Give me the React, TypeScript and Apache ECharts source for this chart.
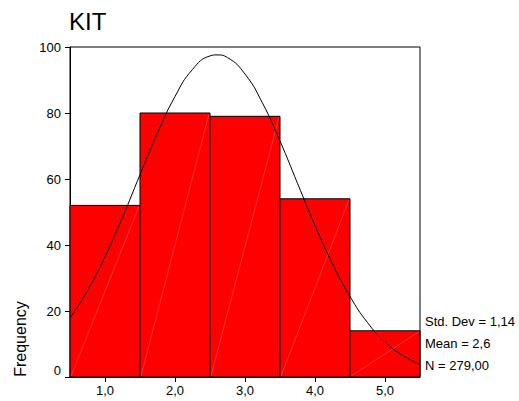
import React, { useEffect, useRef } from "react";
import * as echarts from "echarts";

// Histogram bins (centre of bin, frequency)
const binCenters = [1, 2, 3, 4, 5];
const frequencies = [52, 80, 79, 54, 14];

// Normal curve read along the x-axis
const curveX = [0.5, 0.75, 1.0, 1.25, 1.5, 1.75, 2.0, 2.25, 2.5, 2.6, 2.75, 3.0, 3.25, 3.5, 3.75, 4.0, 4.25, 4.5, 4.75, 5.0, 5.25, 5.5];
const curveY = [17.9, 26.2, 36.5, 48.4, 61.3, 73.9, 85.0, 93.2, 97.3, 97.6, 96.8, 91.8, 83.0, 71.5, 58.7, 45.9, 34.3, 24.4, 16.5, 10.6, 6.6, 3.8];

const xTicks = [1, 2, 3, 4, 5];
const statLines = ["Std. Dev = 1,14", "Mean = 2,6", "N = 279,00"];

const FONT = "Arial, 'Liberation Sans', Helvetica, sans-serif";

export default function App() {
  const ref = useRef<HTMLDivElement>(null);

  useEffect(() => {
    if (!ref.current) return;
    const chart = echarts.init(ref.current, null, { renderer: "svg" });

    const barData = binCenters.map((c, i) => [c, frequencies[i]]);
    const lineData = curveX.map((x, i) => [x, curveY[i]]);

    const option: any = {
      animation: false,
      backgroundColor: "#ffffff",
      textStyle: { fontFamily: FONT },
      title: {
        text: "KIT",
        left: 64,
        top: 4,
        textStyle: { fontFamily: FONT, fontSize: 24, fontWeight: "normal", color: "#000" },
      },
      grid: {
        left: 70,
        top: 47,
        width: 350,
        height: 330,
        show: true,
        borderColor: "#000",
        borderWidth: 1,
        backgroundColor: "transparent",
      },
      xAxis: {
        type: "value",
        min: 0.5,
        max: 5.5,
        splitLine: { show: false },
        axisLine: { show: true, lineStyle: { color: "#000", width: 1 } },
        axisTick: { show: true, customValues: xTicks, length: 5, lineStyle: { color: "#000" } },
        axisLabel: {
          customValues: xTicks,
          margin: 7,
          color: "#000",
          fontSize: 13,
          fontFamily: FONT,
          formatter: (v: number) => v.toFixed(1).replace(".", ","),
        },
      },
      yAxis: {
        type: "value",
        min: 0,
        max: 100,
        interval: 20,
        splitLine: { show: false },
        axisLine: { show: true, lineStyle: { color: "#000", width: 1 } },
        axisTick: { show: true, length: 5, lineStyle: { color: "#000" } },
        axisLabel: {
          margin: 9,
          color: "#000",
          fontSize: 13,
          fontFamily: FONT,
          formatter: (v: number) => (v === 0 ? "{z|0}" : String(v)),
          rich: { z: { fontSize: 13, fontFamily: FONT, color: "#000", padding: [0, 0, 14, 0] } },
        },
      },
      series: [
        {
          type: "custom",
          data: barData,
          z: 2,
          renderItem: (params: any, api: any) => {
            const c = api.value(0);
            const v = api.value(1);
            const tl = api.coord([c - 0.5, v]);
            const br = api.coord([c + 0.5, 0]);
            return {
              type: "group",
              children: [
                {
                  type: "rect",
                  shape: { x: tl[0], y: tl[1], width: br[0] - tl[0], height: br[1] - tl[1] },
                  style: { fill: "#ff0000", stroke: "#000", lineWidth: 1 },
                },
                {
                  type: "line",
                  shape: { x1: tl[0] + 1, y1: br[1] - 1, x2: br[0] - 1, y2: tl[1] + 1 },
                  style: { stroke: "rgba(255,255,255,0.4)", lineWidth: 0.5 },
                },
              ],
            };
          },
        },
        {
          type: "line",
          data: lineData,
          smooth: true,
          showSymbol: false,
          symbol: "none",
          z: 5,
          lineStyle: { color: "#000", width: 1 },
        },
      ],
      graphic: [
        {
          type: "text",
          x: 20,
          y: 339,
          rotation: Math.PI / 2,
          style: {
            text: "Frequency",
            fill: "#000",
            font: `16px ${FONT}`,
            textAlign: "center",
            textVerticalAlign: "middle",
          },
        },
        ...statLines.map((t, i) => ({
          type: "text",
          x: 425,
          y: 321 + i * 22,
          style: {
            text: t,
            fill: "#000",
            font: `13px ${FONT}`,
            textAlign: "left",
            textVerticalAlign: "middle",
          },
        })),
      ],
    };

    chart.setOption(option);
    return () => chart.dispose();
  }, []);

  return (
    <div
      ref={ref}
      style={{ position: "fixed", left: 0, top: 0, width: 519, height: 401 }}
    />
  );
}
